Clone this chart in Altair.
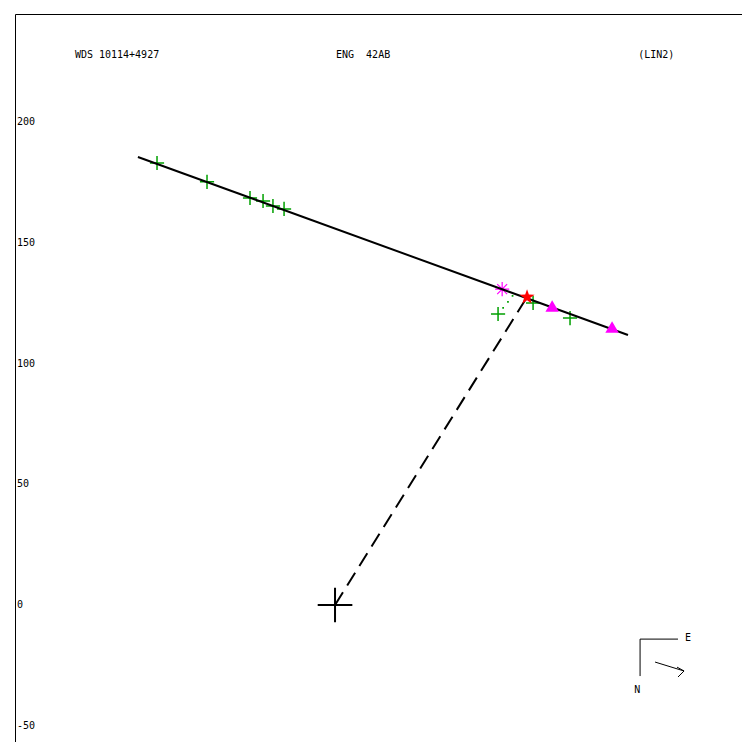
import altair as alt
import pandas as pd

# ---- data (plot units) ----
fit_x = [-81.6, 121.3]
fit_y = [185.5, 111.8]

obs_x = [-73.7, -53.0, -35.2, -29.8, -25.7, -21.1, 82.0, 67.5, 97.3]
obs_y = [183.0, 175.2, 168.5, 167.3, 165.2, 164.0, 125.1, 120.5, 118.8]

dot_x = [69.6, 71.6, 73.5]
dot_y = [123.0, 125.5, 128.0]

ast_x = [69.2]
ast_y = [130.8]

star_x = [79.5]
star_y = [127.5]

tri_x = [89.9, 114.7]
tri_y = [123.8, 115.1]

dash_x = [0.0, 79.5]
dash_y = [0.0, 127.5]

origin_x = [0.0]
origin_y = [0.0]

ytick_values = [200, 150, 100, 50, 0, -50]

header_texts = ["WDS 10114+4927", "ENG\u00a0\u00a042AB", "(LIN2)"]
header_x = [-107.7, 0.4, 125.5]
header_y = [227.7, 227.7, 227.7]

# compass segments
comp_x1 = [126.3, 126.3, 132.5, 141.6, 142.0]
comp_y1 = [-14.1, -14.1, -23.6, -25.7, -29.8]
comp_x2 = [142.0, 126.3, 144.5, 144.5, 144.5]
comp_y2 = [-14.1, -29.4, -27.3, -27.3, -27.3]

comp_text = ["E", "N"]
comp_text_x = [146.2, 125.1]
comp_text_y = [-13.7, -35.2]

X_DOMAIN = [-132.5, 168.5]
Y_DOMAIN = [-56.7, 244.7]

xs = alt.Scale(domain=X_DOMAIN, nice=False, zero=False)
ys = alt.Scale(domain=Y_DOMAIN, nice=False, zero=False)


def X(field="x"):
    return alt.X(f"{field}:Q", scale=xs, axis=None)


def Y(field="y"):
    return alt.Y(f"{field}:Q", scale=ys, axis=None)


FONT = "DejaVu Sans Mono"

ylab = alt.Chart(pd.DataFrame({"x": [X_DOMAIN[0]] * len(ytick_values), "y": ytick_values,
                               "t": [str(v) for v in ytick_values]})).mark_text(
    align="left", baseline="middle", font=FONT, fontSize=10, color="black", dx=2
).encode(x=X(), y=Y(), text="t:N")

head = alt.Chart(pd.DataFrame({"x": header_x, "y": header_y, "t": header_texts})).mark_text(
    align="left", baseline="middle", font=FONT, fontSize=10, color="black"
).encode(x=X(), y=Y(), text="t:N")

comp_t = alt.Chart(pd.DataFrame({"x": comp_text_x, "y": comp_text_y, "t": comp_text})).mark_text(
    align="center", baseline="middle", font=FONT, fontSize=10, color="black"
).encode(x=X(), y=Y(), text="t:N")

fit_df = pd.DataFrame({"x": fit_x, "y": fit_y, "o": [0, 1]})
fit = alt.Chart(fit_df).mark_line(color="black", strokeWidth=2).encode(
    x=X(), y=Y(), order="o:Q")

dash_df = pd.DataFrame({"x": dash_x, "y": dash_y, "o": [0, 1]})
dash = alt.Chart(dash_df).mark_line(color="black", strokeWidth=2, strokeDash=[15, 8]).encode(
    x=X(), y=Y(), order="o:Q")

comp = alt.Chart(pd.DataFrame({"x": comp_x1, "y": comp_y1, "x2": comp_x2, "y2": comp_y2})).mark_rule(
    color="black", strokeWidth=1
).encode(x=X(), y=Y(), x2="x2:Q", y2="y2:Q")

plus_path = "M-1,0H1M0,-1V1"
origin = alt.Chart(pd.DataFrame({"x": origin_x, "y": origin_y})).mark_point(
    shape=plus_path, size=1200, filled=False, color="black", strokeWidth=2, opacity=1
).encode(x=X(), y=Y())

obs = alt.Chart(pd.DataFrame({"x": obs_x, "y": obs_y})).mark_point(
    shape=plus_path, size=200, filled=False, color="#00a000", strokeWidth=1.5, opacity=1
).encode(x=X(), y=Y())

dots = alt.Chart(pd.DataFrame({"x": dot_x, "y": dot_y})).mark_square(
    size=3, color="#00a000", opacity=1).encode(x=X(), y=Y())

ast_path = "M-1,0H1M0,-1V1M-0.7,-0.7L0.7,0.7M-0.7,0.7L0.7,-0.7"
ast = alt.Chart(pd.DataFrame({"x": ast_x, "y": ast_y})).mark_point(
    shape=ast_path, size=200, filled=False, color="#ff00ff", strokeWidth=1.2, opacity=1
).encode(x=X(), y=Y())

tri = alt.Chart(pd.DataFrame({"x": tri_x, "y": tri_y})).mark_point(
    shape="triangle-up", size=180, filled=True, color="#ff00ff", opacity=1
).encode(x=X(), y=Y())

star_path = ("M0,-1L0.235,-0.324L0.951,-0.309L0.380,0.124L0.588,0.809L0,0.4"
             "L-0.588,0.809L-0.380,0.124L-0.951,-0.309L-0.235,-0.324Z")
star = alt.Chart(pd.DataFrame({"x": star_x, "y": star_y})).mark_point(
    shape=star_path, size=250, filled=True, color="#ff0000", opacity=1
).encode(x=X(), y=Y())

chart = alt.layer(
    ylab, head, comp_t, obs, dots, ast, fit, dash, comp, origin, tri, star
).properties(
    width=727, height=728,
    autosize=alt.AutoSizeParams(type="none"),
    padding={"left": 7, "top": 6, "right": 0, "bottom": 0},
).configure_view(stroke="black", strokeWidth=1)

chart.save("out.html", embed_options={"renderer": "svg", "actions": False})
